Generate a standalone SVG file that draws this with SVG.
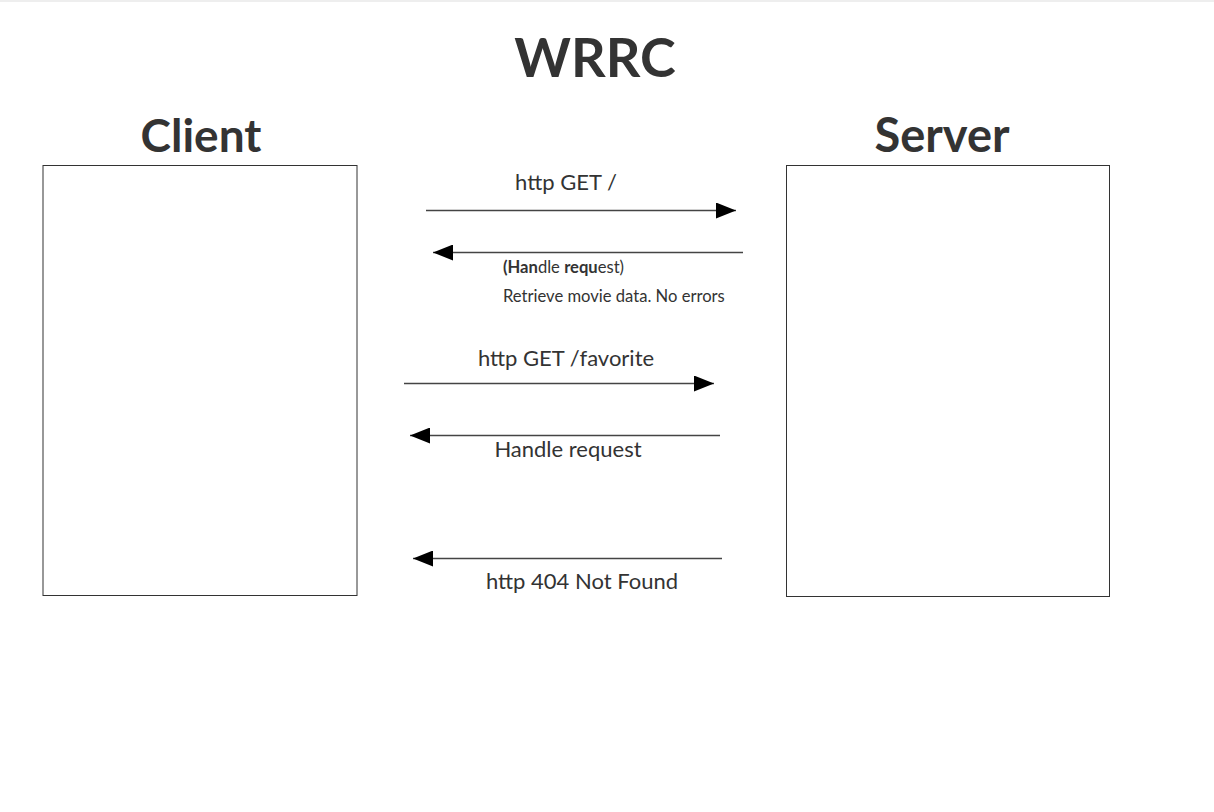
<svg xmlns="http://www.w3.org/2000/svg" width="1214" height="812" viewBox="0 0 1214 812">
<style>
text{font-family:"Lato","Open Sans","Liberation Sans",sans-serif;fill:#333}
.h{font-weight:bold}
.box{fill:#fff;stroke:#333;stroke-width:1}
.c{stroke:#444;stroke-width:1.5;fill:none}
.lbl{font-size:22px}
.sm{font-size:16.6px}
</style>
<defs>
<marker id="ah" markerWidth="20" markerHeight="16" refX="20" refY="8" orient="auto" markerUnits="userSpaceOnUse">
<path d="M0,0 L20,8 L0,16 Z" fill="#000"/>
</marker>
</defs>
<rect x="0" y="0" width="1214" height="812" fill="#fff"/>
<rect x="0" y="0" width="1214" height="2" fill="#eee"/>
<text class="h" x="595" y="77" font-size="54" text-anchor="middle">WRRC</text>
<g id="client">
<text class="h" x="201" y="152" font-size="46" text-anchor="middle">Client</text>
<rect class="box" x="43" y="165.5" width="314" height="430"/>
</g>
<g id="server">
<text class="h" x="942" y="152" font-size="47" text-anchor="middle">Server</text>
<rect class="box" x="786.5" y="165.5" width="323" height="431"/>
</g>
<g id="connectors">
<line class="c" x1="426" y1="210.5" x2="736" y2="210.5" marker-end="url(#ah)"/>
<line class="c" x1="743" y1="252.5" x2="433" y2="252.5" marker-end="url(#ah)"/>
<line class="c" x1="404" y1="383.5" x2="714" y2="383.5" marker-end="url(#ah)"/>
<line class="c" x1="720" y1="435.5" x2="410" y2="435.5" marker-end="url(#ah)"/>
<line class="c" x1="722" y1="558.5" x2="413" y2="558.5" marker-end="url(#ah)"/>
</g>
<g id="labels">
<text class="lbl" x="566" y="190" font-size="23.5" text-anchor="middle">http GET /</text>
<text class="sm" x="503" y="273"><tspan class="h">(Han</tspan>dle <tspan class="h">requ</tspan>est)</text>
<text class="sm" x="503" y="302">Retrieve movie data. No errors</text>
<text class="lbl" x="566" y="366" text-anchor="middle">http GET /favorite</text>
<text class="lbl" x="568" y="457" font-size="22.5" text-anchor="middle">Handle request</text>
<text class="lbl" x="582" y="589" text-anchor="middle">http 404 Not Found</text>
</g>
</svg>
